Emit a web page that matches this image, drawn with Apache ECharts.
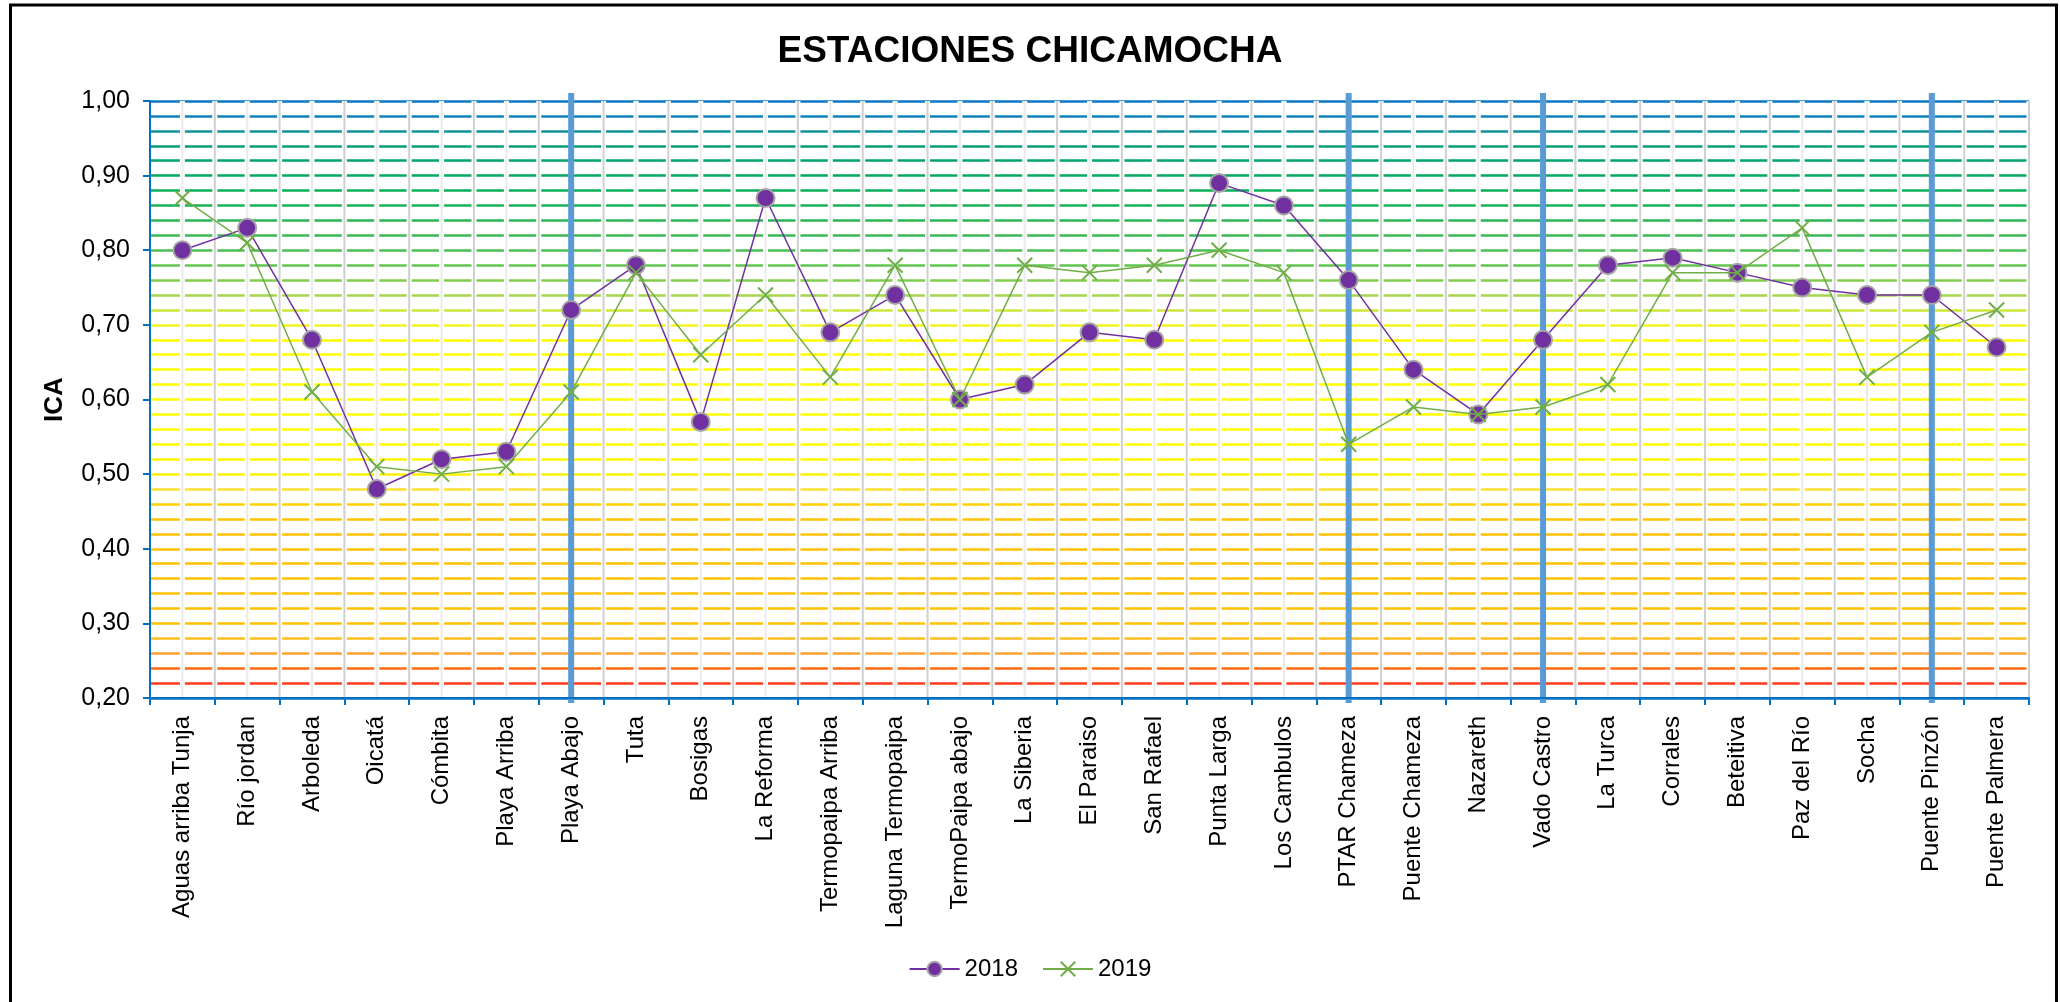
<!DOCTYPE html>
<html><head><meta charset="utf-8">
<script src="https://cdn.jsdelivr.net/npm/echarts@6/dist/echarts.min.js"></script>
<style>html,body{margin:0;padding:0;background:#fff}#c{width:2060px;height:1002px}</style>
</head><body><div id="c"></div>
<script>
const categories = ['Aguas arriba Tunja','Río jordan','Arboleda','Oicatá','Cómbita','Playa Arriba','Playa Abajo','Tuta','Bosigas','La Reforma','Termopaipa Arriba','Laguna Termopaipa','TermoPaipa abajo','La Siberia','El Paraiso','San Rafael','Punta Larga','Los Cambulos','PTAR Chameza','Puente Chameza','Nazareth','Vado Castro','La Turca','Corrales','Beteitiva','Paz del Río','Socha','Puente Pinzón','Puente Palmera'];
const ica2018 = [0.80,0.83,0.68,0.48,0.52,0.53,0.72,0.78,0.57,0.87,0.69,0.74,0.60,0.62,0.69,0.68,0.89,0.86,0.76,0.64,0.58,0.68,0.78,0.79,0.77,0.75,0.74,0.74,0.67];
const ica2019 = [0.87,0.81,0.61,0.51,0.50,0.51,0.61,0.77,0.66,0.74,0.63,0.78,0.60,0.78,0.77,0.78,0.80,0.77,0.54,0.59,0.58,0.59,0.62,0.77,0.77,0.83,0.63,0.69,0.72];
const dividerStations = ['Playa Abajo','PTAR Chameza','Vado Castro','Puente Pinzón'];
const yMin = 0.2, yMax = 1.0, yLabelStep = 0.1, yBandStep = 0.02;
// colour of each horizontal band line from 0.20 (index 0) to 1.00 (index 40)
const levelColors = ['#0070C0',
 '#FF3A1A','#FF6A10','#FFA030','#FFBE20','#FFC000','#FFC000','#FFC000','#FFC000','#FFC000','#FFC000',
 '#FFC000','#FFC400','#FFD000','#FFE030','#FFF000','#FFF500','#FFFF00','#FFFF00','#FFFF00','#FFFF00',
 '#FFFF00','#FFFF00','#FFFF00','#FFFF00','#F0F520','#CDE63A','#A3D64A','#80CC4E','#62C450','#4DBE52',
 '#3AB855','#2AB456','#18B157','#08AE58','#00A95E','#00A46A','#009C7A','#11929A','#0E82BE','#0A78C4'];

const chart = echarts.init(document.getElementById('c'), null, {renderer:'canvas'});
const FONT = 'Liberation Sans, Arial, sans-serif';

function vline(x, y1, y2, color, w) {
  return {type:'line', shape:{x1:x, y1:y1, x2:x, y2:y2}, style:{stroke:color, lineWidth:w}};
}

chart.setOption({
  animation: false,
  textStyle: {fontFamily: FONT},
  title: {text:'ESTACIONES CHICAMOCHA', left:'center', top:28,
    textStyle:{fontSize:37, fontWeight:'bold', color:'#000', fontFamily:FONT}},
  legend: {data:['2018','2019'], left:'center', top:952, itemWidth:50, itemHeight:18, itemGap:24,
    textStyle:{fontSize:24, color:'#000', fontFamily:FONT}},
  grid: {left:150, right:31, top:101, bottom:304, containLabel:false},
  xAxis: {type:'category', data:categories, boundaryGap:true, z:5,
    axisLine:{lineStyle:{color:'#0070C0', width:2}},
    axisTick:{show:true, length:7, lineStyle:{color:'#0070C0', width:2}},
    axisLabel:{rotate:90, interval:0, fontSize:24, color:'#000', margin:18, fontFamily:FONT},
    splitLine:{show:false}},
  yAxis: [
    {type:'value', min:yMin, max:yMax, interval:yLabelStep, z:5,
     axisLine:{show:true, lineStyle:{color:'#0070C0', width:2}},
     axisTick:{show:true, length:7, lineStyle:{color:'#0070C0', width:2}},
     axisLabel:{formatter:v=>v.toFixed(2).replace('.',','), fontSize:25, color:'#000', margin:20, fontFamily:FONT},
     splitLine:{show:false},
     name:'ICA', nameLocation:'middle', nameGap:82,
     nameTextStyle:{fontWeight:'bold', fontSize:26, color:'#000', fontFamily:FONT}},
    {type:'value', min:yMin, max:yMax, interval:yBandStep, z:0,
     axisLine:{show:false}, axisTick:{show:false}, axisLabel:{show:false},
     splitLine:{show:true, lineStyle:{color:levelColors, width:2.5}}}
  ],
  graphic: [{type:'rect', silent:true, z:-10,
    shape:{x:10.5, y:5, width:2046, height:1010}, style:{fill:'none', stroke:'#000', lineWidth:3}}],
  series: [
    {type:'custom', name:'vgrid', silent:true, z:1, yAxisIndex:0,
     data: categories.map(c=>[c, yMax]),
     encode:{x:0, y:1},
     renderItem:(params, api)=>{
       const i = api.value(0);
       const top = api.coord([i, yMax]);
       const bot = api.coord([i, yMin]);
       const w = api.size([1,0])[0];
       const cx = top[0], y1 = top[1], y2 = bot[1]-1;
       const ch = [];
       ch.push(vline(cx, y1, y2, '#fff', 5));
       ch.push(vline(cx, y1, y2, '#EBEBEB', 2));
       if (i > 0) {
         ch.push(vline(cx - w/2, y1, y2, '#fff', 5));
         ch.push(vline(cx - w/2, y1, y2, '#D0D0D0', 2));
       }
       if (i === categories.length - 1) {
         ch.push(vline(cx + w/2, y1, y2, '#fff', 5));
         ch.push(vline(cx + w/2, y1, y2, '#D0D0D0', 2));
       }
       return {type:'group', children:ch};
     }},
    {type:'custom', name:'dividers', silent:true, z:1.5, yAxisIndex:0,
     data: dividerStations.map(s=>[s, yMax]),
     encode:{x:0, y:1},
     renderItem:(params, api)=>{
       const top = api.coord([api.value(0), yMax]);
       const bot = api.coord([api.value(0), yMin]);
       return vline(top[0], top[1]-8, bot[1]+5, '#5B9BD5', 6);
     }},
    {type:'line', name:'2018', data:ica2018, z:3, yAxisIndex:0,
     symbol:'circle', symbolSize:18, showAllSymbol:true,
     lineStyle:{color:'#7030A0', width:1.5},
     itemStyle:{color:'#7030A0', borderColor:'#A6A6A6', borderWidth:2}},
    {type:'line', name:'2019', data:ica2019, z:4, yAxisIndex:0,
     symbol:'path://M0,0L20,20M20,0L0,20', symbolSize:15, showAllSymbol:true,
     lineStyle:{color:'#70AD47', width:1.5},
     itemStyle:{color:'#70AD47', borderColor:'#70AD47', borderWidth:2}}
  ]
});
</script></body></html>
